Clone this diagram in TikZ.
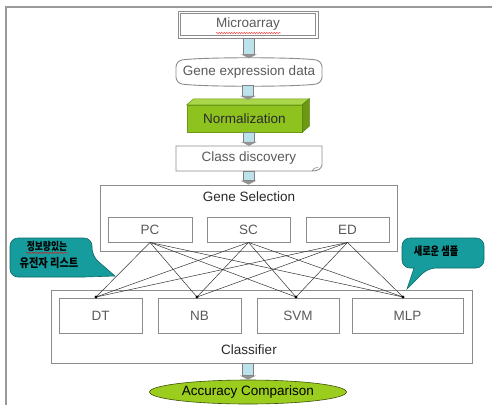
\documentclass[tikz,border=0pt]{standalone}
\usepackage{fontspec}
\setmainfont{Liberation Sans}
\newfontfamily\krfont{Noto Sans CJK KR}
\usetikzlibrary{shapes.geometric,calc,decorations.pathmorphing}
\definecolor{framegray}{HTML}{9A9A9A}
\definecolor{boxgray}{HTML}{8C8C8C}
\definecolor{txtgray}{HTML}{5A5A5A}
\definecolor{darktxt}{HTML}{2A2A2A}
\definecolor{arrowblue}{HTML}{BCE3EC}
\definecolor{greenfront}{HTML}{8DC21F}
\definecolor{greentop}{HTML}{A9D64B}
\definecolor{greenside}{HTML}{6B9A12}
\definecolor{callteal}{HTML}{169C9C}
\definecolor{calledge}{HTML}{0E6A6A}
\definecolor{accgreen}{HTML}{9ACD1E}
\newcommand\bluearrow[2]{%
  \path[draw=gray, fill=arrowblue, line width=0.5pt] ($(#2 |- #1)+(-5.5,0)$) rectangle ($(#2)+(5.5,-4)$);
  \path[fill=gray!85] ($(#2)+(-8,-4)$) -- ($(#2)+(8,-4)$) -- (#2) -- cycle;}
\begin{document}
\begin{tikzpicture}[x=1pt,y=-1pt,
  box/.style={draw=boxgray, line width=0.9pt, inner sep=0pt, font=\fontsize{13.5}{15}\selectfont, text=txtgray},
  plain/.style={inner sep=0pt, font=\fontsize{13.5}{15}\selectfont, text=txtgray},
  lbl/.style={inner sep=0pt, font=\fontsize{13.5}{15}\selectfont, text=darktxt},
  link/.style={draw=black!80, line width=0.5pt},
  callout/.style={fill=callteal, draw=calledge, line width=0.6pt},
  krtext/.style={inner sep=0pt, text=black, align=center},
  spell/.style={draw=red, line width=0.4pt, decorate, decoration={snake, amplitude=0.5pt, segment length=2.5pt}}]
\useasboundingbox (0,0) rectangle (492,405);
\fill[white] (0,0) rectangle (492,405);
\draw[framegray, line width=2pt] (6,405) -- (6,7) -- (492,7);

% Microarray
\node[box, minimum width=140, minimum height=27] (micro) at (248,24.5) {Microarray};
\draw[boxgray, line width=0.6pt] ($(micro.north west)+(3,3)$) rectangle ($(micro.south east)+(-3,-3)$);
\draw[spell] ($(micro.center)+(-32,8.5)$) -- ($(micro.center)+(33,8.5)$);

% Gene expression data
\node[plain, minimum width=146, minimum height=27] (gene) at (249,72) {Gene expression data};
\draw[boxgray, line width=0.9pt, rounded corners=6pt] (176,61) .. controls (200,57) and (298,57) .. (322,61) -- (322,83) .. controls (298,87) and (200,87) .. (176,83) -- cycle;

% Normalization (3D box)
\node[lbl, fill=greenfront, draw=greenside, line width=0.5pt, minimum width=115, minimum height=27] (norm) at (244.5,118.5) {Normalization};
\path[fill=greentop, draw=greenside, line width=0.5pt] (norm.north west) -- ++(7,-6) -- ($(norm.north east)+(7,-6)$) -- (norm.north east) -- cycle;
\path[fill=greenside, draw=greenside!80!black, line width=0.5pt] (norm.north east) -- ++(7,-6) -- ($(norm.south east)+(7,-6)$) -- (norm.south east) -- cycle;
\coordinate (normtop) at ($(norm.north)+(3.5,-5)$);

% Class discovery
\node[plain, minimum width=146, minimum height=25] (disc) at (249,158.5) {Class discovery};
\draw[boxgray, line width=0.9pt] (176,146) -- (322,146) -- (322,165) .. controls (321,169) and (318,171) .. (312,171) -- (176,171) -- cycle;
\draw[boxgray, line width=0.6pt] (312,171) .. controls (314,168) .. (318,167.5);

% Gene Selection
\node[box, minimum width=297, minimum height=66] (gsel) at (248.5,218) {};
\node[lbl] (gseltitle) at (249,197) {Gene Selection};
\node[box, minimum width=84, minimum height=25] (pc) at (150,229.5) {PC};
\node[box, minimum width=83, minimum height=25] (sc) at (248.5,229.5) {SC};
\node[box, minimum width=83, minimum height=25] (ed) at (347.5,229.5) {ED};

% Classifier
\node[box, minimum width=421, minimum height=73] (cls) at (261.5,326.5) {};
\node[lbl] (clstitle) at (249,350) {Classifier};
\node[box, minimum width=83, minimum height=35] (dt) at (100.5,315.5) {DT};
\node[box, minimum width=83, minimum height=35] (nb) at (199.5,315.5) {NB};
\node[box, minimum width=82, minimum height=35] (svm) at (298,315.5) {SVM};
\node[box, minimum width=111, minimum height=35] (mlp) at (407.5,315.5) {MLP};

\coordinate (d1) at (96,297);
\coordinate (d2) at (197,297);
\coordinate (d3) at (296,297);
\coordinate (d4) at (403,297);
\foreach \s in {pc,sc,ed}
  \foreach \t in {d1,d2,d3,d4}
    \draw[link] (\s.south) -- (\t);
\foreach \t in {d1,d2,d3,d4}
  \fill (\t) circle (1.6);

% Accuracy
\node[ellipse, draw=black!60!accgreen, line width=0.6pt, fill=accgreen, minimum width=197, minimum height=24, inner sep=0pt, font=\fontsize{13.5}{15}\selectfont, text=black] (acc) at (248,392) {Accuracy Comparison};

% arrows
\bluearrow{micro.south}{gene.north}
\bluearrow{gene.south}{normtop}
\bluearrow{norm.south}{disc.north}
\bluearrow{disc.south}{gsel.north}
\bluearrow{cls.south}{acc.north}

% callouts
\path[callout] (10,257) [rounded corners=8pt] -- (10,238) -- (92,238) -- (92,256) [sharp corners] -- (115,276) -- (84,277) [rounded corners=8pt] -- (10,277) -- cycle;
\node[krtext, font=\krfont\bfseries\fontsize{11}{13}\selectfont] (lcall1) at (47,246) {\scalebox{0.8}[1]{정보량있는}};
\node[krtext, font=\krfont\bfseries\fontsize{12}{14}\selectfont] (lcall2) at (49,263) {\scalebox{0.85}[1]{유전자 리스트}};
\draw[spell] ($(lcall1.south west)+(0,1.5)$) -- ($(lcall1.south east)+(0,1.5)$);

\path[callout] (440,238) [rounded corners=8pt] -- (484,238) -- (484,268) -- (428,268) [sharp corners] -- (407,289) -- (414,268) [rounded corners=8pt] -- (402,268) -- (402,238) -- cycle;
\node[krtext, font=\krfont\bfseries\fontsize{11.5}{13}\selectfont] (rcall) at (436,251) {\scalebox{0.8}[1]{새로운 샘플}};
\end{tikzpicture}
\end{document}
